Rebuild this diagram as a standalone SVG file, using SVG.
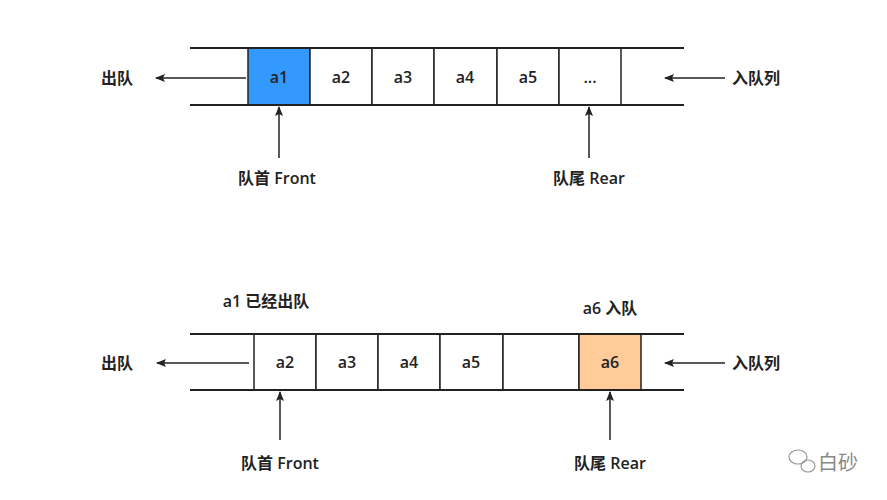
<svg xmlns="http://www.w3.org/2000/svg" width="887" height="500" viewBox="0 0 887 500">
<style>
text{font-family:"Open Sans","Noto Sans CJK SC",sans-serif;font-size:16px;font-weight:600;fill:#222;text-anchor:middle;dominant-baseline:central}
.rail{stroke:#222;stroke-width:2}
.cell{fill:#fff;stroke:#222;stroke-width:1.5}
.c{stroke:#222;stroke-width:1.5;fill:none;marker-end:url(#ah)}
</style>
<defs><marker id="ah" markerWidth="10" markerHeight="8" refX="9" refY="4" orient="auto" markerUnits="userSpaceOnUse"><path d="M0,0L10,4L0,8L2,4z" fill="#222"/></marker></defs>
<rect width="887" height="500" fill="#fff"/>
<g id="queue1">
<rect class="cell" x="248" y="48" width="62" height="57" style="fill:#3399FF"/><text x="279" y="77">a1</text>
<rect class="cell" x="310" y="48" width="62" height="57"/><text x="341" y="77">a2</text>
<rect class="cell" x="372" y="48" width="62" height="57"/><text x="403" y="77">a3</text>
<rect class="cell" x="434" y="48" width="63" height="57"/><text x="465" y="77">a4</text>
<rect class="cell" x="497" y="48" width="62" height="57"/><text x="528" y="77">a5</text>
<rect class="cell" x="559" y="48" width="62" height="57"/><text x="590" y="77">...</text>
<line class="rail" x1="190" y1="48" x2="684" y2="48"/><line class="rail" x1="190" y1="105" x2="684" y2="105"/>
</g>
<g id="queue2">
<rect class="cell" x="254" y="334" width="62" height="56"/><text x="285" y="362">a2</text>
<rect class="cell" x="316" y="334" width="62" height="56"/><text x="347" y="362">a3</text>
<rect class="cell" x="378" y="334" width="62" height="56"/><text x="409" y="362">a4</text>
<rect class="cell" x="440" y="334" width="63" height="56"/><text x="471" y="362">a5</text>
<rect class="cell" x="503" y="334" width="76" height="56"/>
<rect class="cell" x="579" y="334" width="62" height="56" style="fill:#FFCC99"/><text x="610" y="362">a6</text>
<line class="rail" x1="190" y1="334" x2="684" y2="334"/><line class="rail" x1="190" y1="390" x2="684" y2="390"/>
</g>
<g id="labels">
<text x="117" y="78">出队</text><text x="756" y="78">入队列</text>
<text x="277" y="178">队首 Front</text><text x="589" y="178">队尾 Rear</text>
<text x="117" y="363">出队</text><text x="756" y="363">入队列</text>
<text x="266" y="301">a1 已经出队</text><text x="610" y="308">a6 入队</text>
<text x="280" y="463">队首 Front</text><text x="610" y="463">队尾 Rear</text>
<text x="838" y="462" style="font-weight:normal;fill:#888;font-size:20px">白砂</text>
<g fill="none" stroke="#999" stroke-width="1.2"><ellipse cx="798" cy="457" rx="9" ry="7"/><ellipse cx="808" cy="466" rx="7" ry="6"/></g>
</g>
<g id="connectors">
<line class="c" x1="246" y1="78" x2="156" y2="78"/>
<line class="c" x1="725" y1="78" x2="665" y2="78"/>
<line class="c" x1="279" y1="158" x2="279" y2="107"/>
<line class="c" x1="589" y1="158" x2="589" y2="107"/>
<line class="c" x1="249" y1="363" x2="157" y2="363"/>
<line class="c" x1="725" y1="363" x2="665" y2="363"/>
<line class="c" x1="280" y1="440" x2="280" y2="392"/>
<line class="c" x1="610" y1="440" x2="610" y2="392"/>
</g>
</svg>
